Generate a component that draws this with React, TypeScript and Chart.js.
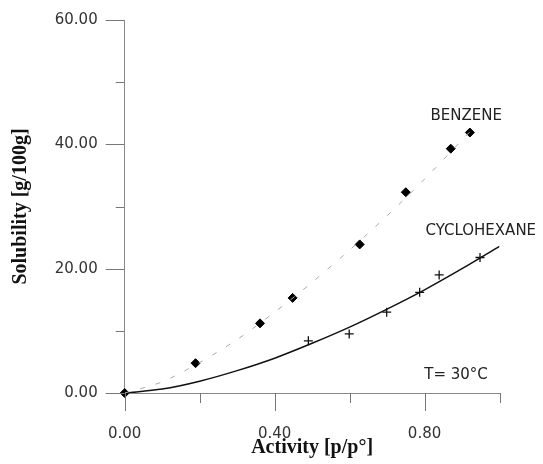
import React, { useEffect, useRef } from "react";
import { Chart, registerables } from "chart.js";

Chart.register(...registerables);

const benzeneX = [0, 0.189, 0.361, 0.448, 0.627, 0.75, 0.87, 0.921];
const benzeneY = [0, 4.8, 11.2, 15.3, 23.9, 32.3, 39.3, 41.9];
const cycloX = [0.49, 0.599, 0.699, 0.787, 0.839, 0.948];
const cycloY = [8.4, 9.5, 13.0, 16.2, 19.0, 21.8];

// Fitted curves
const benzeneFitX = [0, 0.1, 0.2, 0.3, 0.4, 0.5, 0.6, 0.7, 0.8, 0.9, 0.93];
const benzeneFitY = [0, 1.8, 4.9, 8.6, 13.0, 17.8, 23.0, 28.5, 34.4, 40.7, 42.6];
const cycloFitX = [0, 0.1, 0.2, 0.3, 0.4, 0.5, 0.6, 0.7, 0.8, 0.9, 1.0];
const cycloFitY = [0, 0.63, 1.9, 3.6, 5.6, 8.0, 10.6, 13.5, 16.6, 20.0, 23.6];

// Axis ticks
const xTicksMajor = [0, 0.4, 0.8];
const xTicksMinor = [0.2, 0.6, 1.0];
const yTicksMajor = [0, 20, 40, 60];
const yTicksMinor = [10, 30, 50];

// Annotations
const labels = [
  { text: "BENZENE", x: 0.911, y: 44.6 },
  { text: "CYCLOHEXANE", x: 0.95, y: 26.1 },
  { text: "T= 30°C", x: 0.884, y: 2.9 },
];

const zip = (xs: number[], ys: number[]) => xs.map((x, i) => ({ x, y: ys[i] }));

const TICK_FONT = '"DejaVu Sans", sans-serif';

const customPlugin = {
  id: "customTicks",
  afterDraw(chart: any) {
    const ctx = chart.ctx;
    const xs = chart.scales.x;
    const ys = chart.scales.y;
    const x0 = xs.getPixelForValue(0);
    const y0 = ys.getPixelForValue(0);
    ctx.save();
    ctx.strokeStyle = "#777";
    ctx.lineWidth = 1;
    ctx.beginPath();
    xTicksMajor.forEach((v) => {
      const p = Math.round(xs.getPixelForValue(v)) + 0.5;
      ctx.moveTo(p, y0);
      ctx.lineTo(p, y0 + 18);
    });
    xTicksMinor.forEach((v) => {
      const p = Math.round(xs.getPixelForValue(v)) + 0.5;
      ctx.moveTo(p, y0);
      ctx.lineTo(p, y0 + 10);
    });
    yTicksMajor.forEach((v) => {
      const p = Math.round(ys.getPixelForValue(v)) + 0.5;
      ctx.moveTo(x0, p);
      ctx.lineTo(x0 - 19, p);
    });
    yTicksMinor.forEach((v) => {
      const p = Math.round(ys.getPixelForValue(v)) + 0.5;
      ctx.moveTo(x0, p);
      ctx.lineTo(x0 - 9, p);
    });
    ctx.stroke();

    ctx.fillStyle = "#222";
    ctx.font = "15px " + TICK_FONT;
    ctx.textAlign = "center";
    ctx.textBaseline = "middle";
    labels.forEach((l) => {
      ctx.fillText(l.text, xs.getPixelForValue(l.x), ys.getPixelForValue(l.y));
    });
    ctx.restore();
  },
};

export default function App() {
  const ref = useRef<HTMLCanvasElement | null>(null);
  useEffect(() => {
    document.body.style.margin = "0";
    const canvas = ref.current!;
    const chart = new Chart(canvas, {
      type: "scatter",
      data: {
        datasets: [
          {
            data: zip(benzeneFitX, benzeneFitY),
            showLine: true,
            borderColor: "#aaa",
            borderWidth: 1,
            borderDash: [5, 11],
            pointRadius: 0,
            tension: 0.3,
            fill: false,
          },
          {
            data: zip(cycloFitX, cycloFitY),
            showLine: true,
            borderColor: "#111",
            borderWidth: 1.5,
            pointRadius: 0,
            tension: 0.3,
            fill: false,
          },
          {
            data: zip(benzeneX, benzeneY),
            pointStyle: "rectRot",
            pointRadius: 4.5,
            backgroundColor: "#000",
            borderColor: "#000",
            borderWidth: 1,
            clip: false,
          },
          {
            data: zip(cycloX, cycloY),
            pointStyle: "cross",
            pointRadius: 4.5,
            borderColor: "#111",
            borderWidth: 1.3,
            clip: false,
          },
        ],
      },
      options: {
        responsive: false,
        animation: false,
        layout: { padding: { left: 0, right: 43.5, top: 20, bottom: 0 } },
        plugins: { legend: { display: false }, tooltip: { enabled: false } },
        scales: {
          x: {
            type: "linear",
            min: 0,
            max: 1,
            grid: { display: false },
            border: { display: true, color: "#888", width: 1 },
            ticks: {
              stepSize: 0.2,
              padding: 24,
              color: "#333",
              font: { family: TICK_FONT, size: 15 },
              callback: (v: any) =>
                Math.round(Number(v) * 10) % 4 === 0 ? Number(v).toFixed(2) : "",
            },
            title: {
              display: true,
              text: "Activity [p/p°]",
              color: "#111",
              font: { family: '"Liberation Serif", serif', size: 20, weight: "bold" },
              padding: { top: 0, bottom: 4 },
            },
            afterFit: (s: any) => {
              s.height = 71;
              s.paddingLeft = 0;
              s.paddingRight = 0;
            },
          },
          y: {
            type: "linear",
            min: 0,
            max: 60,
            grid: { display: false },
            border: { display: true, color: "#888", width: 1 },
            ticks: {
              stepSize: 10,
              padding: 19,
              color: "#333",
              font: { family: TICK_FONT, size: 15 },
              callback: (v: any) =>
                Math.round(Number(v)) % 20 === 0 ? Number(v).toFixed(2) : "",
            },
            title: {
              display: true,
              text: "Solubility [g/100g]",
              color: "#111",
              font: { family: '"Liberation Serif", serif', size: 20, weight: "bold" },
              padding: { top: 9, bottom: 0 },
            },
            afterFit: (s: any) => {
              s.width = 124.7;
              s.paddingTop = 0;
              s.paddingBottom = 0;
            },
          },
        },
      },
      plugins: [customPlugin],
    } as any);
    return () => chart.destroy();
  }, []);
  return (
    <div style={{ width: 543, height: 464 }}>
      <canvas ref={ref} width={543} height={464} style={{ width: 543, height: 464, display: "block" }} />
    </div>
  );
}
